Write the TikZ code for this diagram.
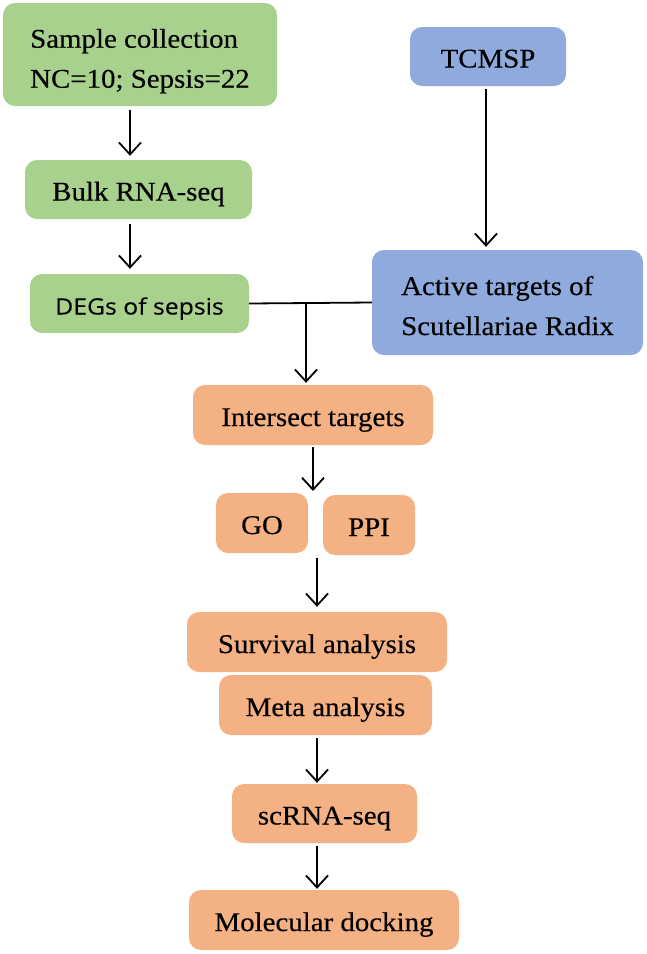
\documentclass[tikz,border=0pt]{standalone}
\usepackage{fontspec}
\setmainfont{Liberation Serif}[FakeStretch=1.07, FakeBold=0.35]
\newfontfamily\degsfont{Open Sans}[FakeStretch=1.1, FakeBold=0.3]
\usetikzlibrary{arrows.meta}
\definecolor{grn}{HTML}{A9D18E}
\definecolor{blu}{HTML}{8FAADC}
\definecolor{org}{HTML}{F4B183}
\newcommand{\topstrut}[1]{\rule{0pt}{#1}}
\newcommand{\botstrut}{\rule[-6pt]{0pt}{6pt}}
\tikzset{
  box/.style={rectangle, rounded corners=12pt, inner sep=0pt, align=center,
    font=\fontsize{27}{40}\selectfont},
  one/.style={text height=24pt, text depth=2pt},
  gbox/.style={box, fill=grn},
  bbox/.style={box, fill=blu},
  obox/.style={box, fill=org},
  arr/.style={line width=1.8pt, -{Straight Barb[length=12pt,width=22pt,line width=1.8pt]}},
  ln/.style={line width=1.8pt}
}
\begin{document}
\begin{tikzpicture}[x=1pt,y=-1pt]
\useasboundingbox (0,0) rectangle (646,954);
\node[gbox, align=left, minimum width=274pt, minimum height=103pt] (sample) at (140,54.5) {\topstrut{32.4pt}Sample collection\\NC=10; Sepsis=22\botstrut};
\node[gbox, one, minimum width=227pt, minimum height=59pt] (bulk) at (138.5,189.5) {Bulk RNA-seq};
\node[gbox, one, minimum width=219pt, minimum height=59pt, font=\degsfont\fontsize{22.5}{26}\selectfont] (degs) at (139.5,303.5) {DEGs of sepsis};
\node[bbox, one, minimum width=156pt, minimum height=59pt] (tcmsp) at (488,56.5) {TCMSP};
\node[bbox, align=left, minimum width=271pt, minimum height=105pt] (active) at (507.5,302.5) {\topstrut{31pt}Active targets of\\Scutellariae Radix\botstrut};
\node[obox, one, minimum width=240pt, minimum height=60pt] (intersect) at (313,415) {Intersect targets};
\node[obox, one, minimum width=92pt, minimum height=60pt] (go) at (262,523) {GO};
\node[obox, one, minimum width=92pt, minimum height=60pt] (ppi) at (369,525) {PPI};
\node[obox, one, minimum width=260pt, minimum height=60pt] (survival) at (317,642) {Survival analysis};
\node[obox, one, minimum width=213pt, minimum height=60pt] (meta) at (325.5,705) {Meta analysis};
\node[obox, one, minimum width=185pt, minimum height=59pt] (scrna) at (324.5,813.5) {scRNA-seq};
\node[obox, one, minimum width=270pt, minimum height=60pt] (mol) at (324,920) {Molecular docking};
% connectors
\draw[arr, shorten <=4pt, shorten >=4pt] ([xshift=-10pt]sample.south) -- ([xshift=-8.5pt]bulk.north);
\draw[arr, shorten <=5pt, shorten >=5pt] ([xshift=-8.5pt]bulk.south) -- ([xshift=-9.5pt]degs.north);
\draw[arr, shorten <=3pt, shorten >=3pt] ([xshift=-2pt]tcmsp.south) -- ([xshift=-2pt]tcmsp.south |- active.north);
\draw[ln] (degs.east) -- (active.west);
\coordinate (j) at (306,303.5);
\draw[arr, shorten >=2pt] (j) -- (j |- intersect.north);
\coordinate (gp) at (313,491);
\draw[arr, shorten <=2pt] (intersect.south) -- (gp);
\coordinate (gp2) at (317,558);
\draw[arr, shorten >=5pt] (gp2) -- (gp2 |- survival.north);
\draw[arr, shorten <=3pt, shorten >=1pt] ([xshift=-8.5pt]meta.south) -- ([xshift=-7.5pt]scrna.north);
\draw[arr, shorten <=3pt, shorten >=1pt] ([xshift=-7.5pt]scrna.south) -- ([xshift=-7pt]mol.north);
\end{tikzpicture}
\end{document}
